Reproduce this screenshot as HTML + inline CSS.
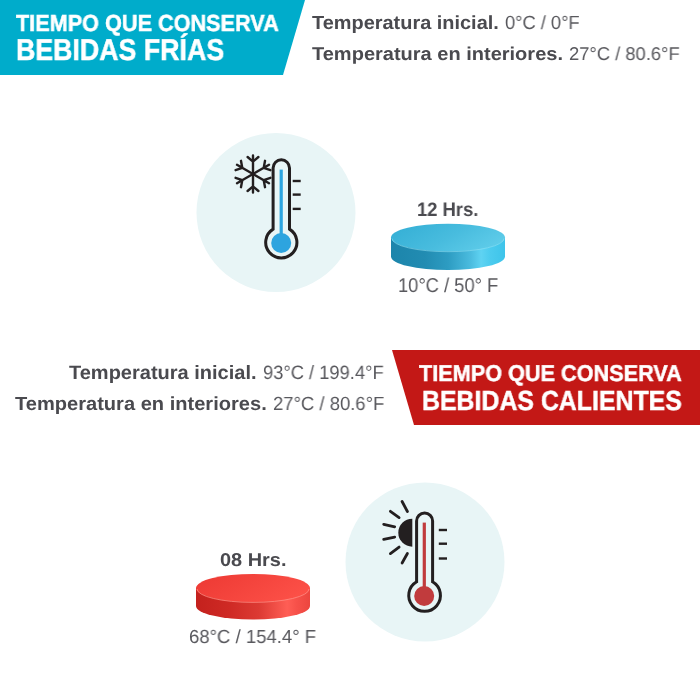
<!DOCTYPE html>
<html>
<head>
<meta charset="utf-8">
<style>
html,body{margin:0;padding:0;background:#fff;}
body{width:700px;height:700px;position:relative;overflow:hidden;font-family:"Liberation Sans",sans-serif;}
.t{position:absolute;white-space:nowrap;line-height:1;transform-origin:0 0;text-rendering:geometricPrecision;will-change:transform;}
.b{font-weight:bold;}
.g{color:#4a4a4f;}
.r{color:#58585d;}
.w{color:#fff;font-weight:bold;-webkit-text-stroke:0.5px #fff;}
svg{position:absolute;left:0;top:0;}
</style>
</head>
<body>
<svg width="700" height="700" viewBox="0 0 700 700">
  <defs>
    <linearGradient id="bTop" x1="0" y1="0.3" x2="1" y2="0.7">
      <stop offset="0" stop-color="#36b0d6"/>
      <stop offset="0.5" stop-color="#48bcde"/>
      <stop offset="1" stop-color="#60cdea"/>
    </linearGradient>
    <linearGradient id="bSide" x1="0" y1="0" x2="1" y2="0">
      <stop offset="0" stop-color="#1c85ab"/>
      <stop offset="0.3" stop-color="#228cb2"/>
      <stop offset="0.5" stop-color="#2d9cc2"/>
      <stop offset="0.7" stop-color="#4bbcdf"/>
      <stop offset="0.79" stop-color="#5fd3f2"/>
      <stop offset="0.87" stop-color="#4ccbee"/>
      <stop offset="1" stop-color="#3ec4ea"/>
    </linearGradient>
    <linearGradient id="rTop" x1="0" y1="0.3" x2="1" y2="0.7">
      <stop offset="0" stop-color="#ee3b35"/>
      <stop offset="1" stop-color="#fd5148"/>
    </linearGradient>
    <linearGradient id="rSide" x1="0" y1="0" x2="1" y2="0">
      <stop offset="0" stop-color="#c4211d"/>
      <stop offset="0.3" stop-color="#cf2a25"/>
      <stop offset="0.55" stop-color="#dc3a33"/>
      <stop offset="0.8" stop-color="#ff5e55"/>
      <stop offset="0.88" stop-color="#f7514a"/>
      <stop offset="1" stop-color="#ec463f"/>
    </linearGradient>
  </defs>
  <!-- banners -->
  <polygon points="0,0 305,0 283,75 0,75" fill="#00accb"/>
  <polygon points="392,350 700,350 700,425 414,425" fill="#c31816"/>
  <!-- circles -->
  <circle cx="276" cy="212.5" r="79.5" fill="#e8f5f6"/>
  <circle cx="425" cy="562" r="79.5" fill="#e8f5f6"/>

  <!-- thermometer 1 -->
  <path d="M273.1 168 A8.2 8.2 0 0 1 289.5 168 L289.5 229.1 A15.6 15.6 0 1 1 273.1 229.1 Z" fill="none" stroke="#231f20" stroke-width="3"/>
  <line x1="281.2" y1="169.6" x2="281.2" y2="240" stroke="#2da4df" stroke-width="3.2"/>
  <circle cx="281.2" cy="243" r="10" fill="#2da4df"/>
  <g stroke="#231f20" stroke-width="2.4">
    <line x1="292.7" y1="181" x2="300.7" y2="181"/>
    <line x1="292.7" y1="194.6" x2="300.7" y2="194.6"/>
    <line x1="292.7" y1="208.9" x2="300.7" y2="208.9"/>
  </g>
  <!-- snowflake -->
  <g transform="translate(253 174)" stroke="#231f20" stroke-width="2.4" stroke-linecap="round" fill="none">
    <g id="arm">
      <path d="M0 0 V-18.5 M0 -12.4 L-5.4 -17 M0 -12.4 L5.4 -17"/>
    </g>
    <use href="#arm" transform="rotate(60)"/>
    <use href="#arm" transform="rotate(120)"/>
    <use href="#arm" transform="rotate(180)"/>
    <use href="#arm" transform="rotate(240)"/>
    <use href="#arm" transform="rotate(300)"/>
  </g>

  <!-- thermometer 2 -->
  <path d="M416.6 521 A8 8 0 0 1 432.6 521 L432.6 581.8 A15.85 15.85 0 1 1 416.6 581.8 Z" fill="none" stroke="#231f20" stroke-width="3"/>
  <line x1="424.3" y1="522.6" x2="424.3" y2="592" stroke="#c13b3d" stroke-width="3.2"/>
  <circle cx="424.2" cy="596" r="10" fill="#c13b3d"/>
  <g stroke="#231f20" stroke-width="2.4">
    <line x1="438.8" y1="530" x2="447" y2="530"/>
    <line x1="438.8" y1="543.7" x2="447" y2="543.7"/>
    <line x1="438.8" y1="558.5" x2="447" y2="558.5"/>
  </g>
  <!-- sun -->
  <path d="M412.3 518.7 A14 14 0 0 0 412.3 546.7 Z" fill="#231f20"/>
  <g stroke="#231f20" stroke-width="2.8" stroke-linecap="round">
    <line x1="402.1" y1="501.5" x2="407.4" y2="511.5"/>
    <line x1="390.4" y1="511.3" x2="399.1" y2="517.6"/>
    <line x1="383.7" y1="524.3" x2="394.7" y2="526.8"/>
    <line x1="383.7" y1="539.4" x2="394.7" y2="537.1"/>
    <line x1="390.4" y1="553.6" x2="399.1" y2="547.1"/>
    <line x1="402.1" y1="563.0" x2="407.4" y2="553.5"/>
  </g>

  <!-- cylinder blue -->
  <path d="M391 237.5 L391 256.5 A57 13.5 0 0 0 505 256.5 L505 237.5 Z" fill="url(#bSide)"/>
  <ellipse cx="448" cy="237.5" rx="57" ry="13.8" fill="url(#bTop)"/>
  <path d="M392 238.5 A56 13.2 0 0 0 504 238.5" fill="none" stroke="#8fdff2" stroke-width="1" stroke-opacity="0.6"/>
  <!-- cylinder red -->
  <path d="M196 588 L196 606 A57 13.5 0 0 0 310 606 L310 588 Z" fill="url(#rSide)"/>
  <ellipse cx="253" cy="588" rx="57" ry="14" fill="url(#rTop)"/>
  <path d="M197 589 A56 13.4 0 0 0 309 589" fill="none" stroke="#ff8f86" stroke-width="1" stroke-opacity="0.75"/>
</svg>

<!-- banner texts -->
<div class="t w" id="bl1" style="left:15.85px;top:11.91px;font-size:23.11px;transform:scaleX(0.9372);">TIEMPO QUE CONSERVA</div>
<div class="t w" id="bl2" style="left:16.06px;top:36.00px;font-size:30.09px;transform:scaleX(0.8897);">BEBIDAS FRÍAS</div>
<div class="t w" id="rl1" style="left:419.25px;top:361.60px;font-size:22.82px;transform:scaleX(0.9496);">TIEMPO QUE CONSERVA</div>
<div class="t w" id="rl2" style="left:421.61px;top:387.01px;font-size:27.62px;transform:scaleX(0.9010);">BEBIDAS CALIENTES</div>

<!-- top right info -->
<div class="t g b" id="tr1b" style="left:312.18px;top:13.81px;font-size:19.04px;transform:scaleX(1.0472);">Temperatura inicial.</div>
<div class="t g r" id="tr1r" style="left:505.38px;top:13.81px;font-size:19.04px;transform:scaleX(0.9606);">0°C / 0°F</div>
<div class="t g b" id="tr2b" style="left:312.30px;top:44.75px;font-size:18.53px;transform:scaleX(1.0807);">Temperatura en interiores.</div>
<div class="t g r" id="tr2r" style="left:569.01px;top:44.75px;font-size:18.53px;transform:scaleX(0.9924);">27°C / 80.6°F</div>

<!-- mid left info -->
<div class="t g b" id="ml1b" style="left:69.26px;top:363.81px;font-size:19.33px;transform:scaleX(1.0351);">Temperatura inicial.</div>
<div class="t g r" id="ml1r" style="left:263.42px;top:363.81px;font-size:19.33px;transform:scaleX(0.9480);">93°C / 199.4°F</div>
<div class="t g b" id="ml2b" style="left:14.94px;top:394.60px;font-size:19.04px;transform:scaleX(1.0546);">Temperatura en interiores.</div>
<div class="t g r" id="ml2r" style="left:272.62px;top:394.60px;font-size:19.04px;transform:scaleX(0.9708);">27°C / 80.6°F</div>

<!-- cylinder labels -->
<div class="t g b" id="h1" style="left:417.36px;top:200.60px;font-size:19.48px;transform:scaleX(0.9450);">12 Hrs.</div>
<div class="t g r" id="c1" style="left:398.41px;top:276.81px;font-size:19.91px;transform:scaleX(0.9205);">10°C / 50° F</div>
<div class="t g b" id="h2" style="left:219.55px;top:550.50px;font-size:18.60px;transform:scaleX(1.0716);">08 Hrs.</div>
<div class="t g r" id="c2" style="left:189.22px;top:629.01px;font-size:18.90px;transform:scaleX(0.9806);">68°C / 154.4° F</div>
</body>
</html>
